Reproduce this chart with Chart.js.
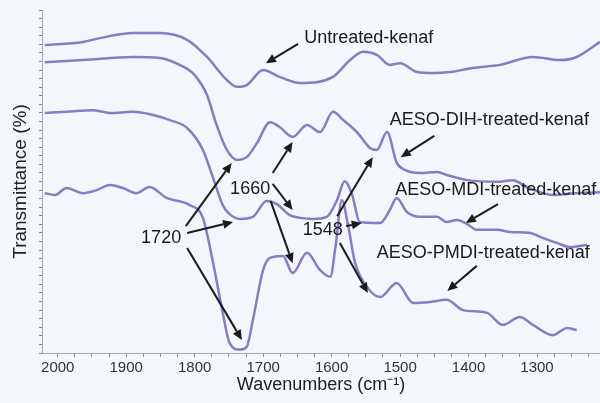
<!DOCTYPE html>
<html>
<head>
<meta charset="utf-8">
<script src="https://cdn.jsdelivr.net/npm/chart.js@4/dist/chart.umd.min.js"></script>
<style>
html, body { margin: 0; padding: 0; background: #f3f6fa; }
canvas { display: block; }
</style>
</head>
<body>
<canvas id="ftir" width="600" height="403"></canvas>
<script>
// spectra: wavenumber (cm-1) and transmittance (arbitrary %, offset per sample)
const untreatedWn = [2019, 1963, 1939, 1890, 1851, 1811, 1782, 1753, 1738, 1724, 1700, 1676, 1646, 1598, 1573, 1554, 1534, 1515, 1500, 1475, 1452, 1427, 1394, 1354, 1306, 1266, 1242, 1208];
const untreatedT = [89.8, 90.7, 91.8, 93.3, 93.3, 91.3, 86.3, 79.6, 77.6, 78.1, 82.5, 80.5, 78.7, 80.5, 85.4, 87.8, 86.9, 84.0, 84.5, 81.9, 81.6, 81.9, 83.1, 84.0, 86.3, 85.4, 86.3, 90.7];

const dihWn = [2019, 1963, 1890, 1851, 1822, 1800, 1782, 1768, 1753, 1738, 1724, 1709, 1690, 1676, 1657, 1636, 1617, 1598, 1583, 1563, 1544, 1534, 1519, 1505, 1493, 1471, 1446, 1432, 1402, 1358, 1335, 1315, 1277, 1244, 1208];
const dihT = [84.8, 85.4, 86.3, 86.0, 84.0, 81.0, 75.2, 66.5, 59.2, 56.3, 57.1, 61.2, 67.3, 65.9, 63.0, 66.5, 64.4, 70.3, 67.9, 64.4, 59.8, 59.2, 64.4, 55.5, 53.4, 52.5, 52.8, 51.9, 50.4, 49.9, 50.4, 48.4, 46.1, 46.6, 46.9];

const mdiWn = [2019, 1987, 1949, 1924, 1890, 1861, 1836, 1811, 1788, 1773, 1759, 1749, 1734, 1715, 1695, 1680, 1661, 1646, 1627, 1607, 1592, 1581, 1570, 1559, 1529, 1515, 1505, 1490, 1471, 1446, 1432, 1417, 1402, 1388, 1358, 1339, 1310, 1291, 1271, 1252, 1227];
const mdiT = [70.0, 70.3, 70.8, 70.0, 70.3, 69.4, 67.9, 65.6, 59.2, 51.0, 43.1, 40.5, 39.1, 39.7, 44.3, 43.4, 40.2, 39.4, 39.1, 39.7, 44.6, 50.1, 46.1, 38.2, 37.9, 41.7, 45.2, 41.1, 39.7, 39.7, 38.2, 38.8, 37.6, 35.9, 35.9, 35.3, 35.0, 33.5, 32.1, 30.9, 31.5];

const pmdiWn = [2019, 2004, 1987, 1963, 1943, 1924, 1905, 1885, 1866, 1841, 1807, 1788, 1773, 1759, 1749, 1734, 1724, 1715, 1700, 1690, 1671, 1657, 1636, 1617, 1602, 1594, 1585, 1576, 1566, 1548, 1529, 1505, 1481, 1456, 1432, 1408, 1373, 1350, 1325, 1306, 1277, 1256, 1242];
const pmdiT = [46.6, 46.1, 48.1, 46.6, 47.5, 49.0, 48.1, 46.6, 48.4, 45.2, 43.1, 39.4, 26.2, 11.7, 2.9, 1.0, 1.8, 9.6, 24.2, 27.7, 28.3, 23.3, 29.2, 24.2, 22.2, 31.5, 44.5, 37.3, 26.5, 19.2, 16.3, 20.4, 14.6, 14.9, 15.5, 12.5, 11.7, 8.2, 10.5, 8.2, 5.2, 7.3, 6.7];

const xTickStep = 25;   // minor ticks, labelled every 100
const yTickStep = 2.5;

// text notes and arrows, placed in data units (wavenumber, transmittance)
const notes = [
    { text: 'Untreated-kenaf', wn: 1640, t: 91.8 },
    { text: 'AESO-DIH-treated-kenaf', wn: 1515, t: 67.9 },
    { text: 'AESO-MDI-treated-kenaf', wn: 1507, t: 47.5 },
    { text: 'AESO-PMDI-treated-kenaf', wn: 1534, t: 29.2 },
    { text: '1720', wn: 1849, t: 33.5, center: true },
    { text: '1660', wn: 1719, t: 47.8, center: true },
    { text: '1548', wn: 1613, t: 35.9, center: true }
];
const arrows = [
    [1649, 90.1, 1696, 84.5],
    [1450, 63.3, 1499, 57.1],
    [1357, 43.4, 1404, 37.9],
    [1388, 25.4, 1431, 18.1],
    [1813, 37.0, 1746, 55.4],
    [1811, 35.0, 1744, 38.2],
    [1811, 30.6, 1731, 3.8],
    [1686, 52.5, 1657, 61.5],
    [1686, 49.3, 1657, 41.7],
    [1689, 44.3, 1657, 26.2],
    [1592, 39.9, 1540, 57.1],
    [1579, 37.0, 1556, 37.9],
    [1588, 32.1, 1547, 17.5]
];

function toPoints(wn, t) {
    return wn.map((w, i) => ({ x: w, y: t[i] }));
}

function makeSet(label, wn, t) {
    return {
        label: label,
        data: toPoints(wn, t),
        borderColor: '#8a7bc2',
        borderWidth: 2.5,
        pointRadius: 0,
        fill: false,
        cubicInterpolationMode: 'monotone'
    };
}

const bgPlugin = {
    id: 'bg',
    beforeDraw(chart) {
        const ctx = chart.ctx;
        ctx.save();
        ctx.fillStyle = '#f3f6fa';
        ctx.fillRect(0, 0, chart.width, chart.height);
        ctx.restore();
    }
};

function drawArrow(ctx, x1, y1, x2, y2) {
    const ang = Math.atan2(y2 - y1, x2 - x1);
    const head = 10;
    const bx = x2 - head * Math.cos(ang);
    const by = y2 - head * Math.sin(ang);
    ctx.beginPath();
    ctx.moveTo(x1, y1);
    ctx.lineTo(bx, by);
    ctx.stroke();
    ctx.beginPath();
    ctx.moveTo(x2, y2);
    ctx.lineTo(bx + 4.5 * Math.sin(ang), by - 4.5 * Math.cos(ang));
    ctx.lineTo(bx - 4.5 * Math.sin(ang), by + 4.5 * Math.cos(ang));
    ctx.closePath();
    ctx.fill();
}

const notesPlugin = {
    id: 'notes',
    afterDatasetsDraw(chart) {
        const ctx = chart.ctx;
        const xs = chart.scales.x;
        const ys = chart.scales.y;
        ctx.save();
        ctx.fillStyle = '#1b1b1b';
        ctx.strokeStyle = '#1b1b1b';
        ctx.lineWidth = 2;
        ctx.font = '18px "Liberation Sans", Arial, sans-serif';
        ctx.textBaseline = 'middle';
        notes.forEach(n => {
            ctx.textAlign = n.center ? 'center' : 'left';
            ctx.fillText(n.text, xs.getPixelForValue(n.wn), ys.getPixelForValue(n.t));
        });
        arrows.forEach(a => {
            drawArrow(ctx, xs.getPixelForValue(a[0]), ys.getPixelForValue(a[1]),
                xs.getPixelForValue(a[2]), ys.getPixelForValue(a[3]));
        });
        ctx.restore();
    }
};

function stepTicks(scale, step) {
    const out = [];
    for (let v = Math.ceil(scale.min / step) * step; v <= scale.max; v += step) {
        out.push({ value: v });
    }
    scale.ticks = out;
}

Chart.defaults.font.family = '"Liberation Sans", Arial, sans-serif';

new Chart(document.getElementById('ftir'), {
    type: 'line',
    data: {
        datasets: [
            makeSet('Untreated-kenaf', untreatedWn, untreatedT),
            makeSet('AESO-DIH-treated-kenaf', dihWn, dihT),
            makeSet('AESO-MDI-treated-kenaf', mdiWn, mdiT),
            makeSet('AESO-PMDI-treated-kenaf', pmdiWn, pmdiT)
        ]
    },
    options: {
        responsive: false,
        devicePixelRatio: 1,
        animation: false,
        layout: { padding: { top: 10, right: 0, left: 0, bottom: 0 } },
        plugins: {
            legend: { display: false },
            tooltip: { enabled: false }
        },
        scales: {
            x: {
                type: 'linear',
                reverse: true,
                min: 1208,
                max: 2023,
                afterBuildTicks: s => stepTicks(s, xTickStep),
                afterFit: s => { s.height = 50; },
                grid: { drawOnChartArea: false, tickLength: 4, color: '#8a8a8a' },
                border: { color: '#a8a8a8', dash: [2, 2] },
                ticks: {
                    autoSkip: false,
                    maxRotation: 0,
                    padding: 2,
                    color: '#333',
                    font: { size: 15 },
                    callback: v => (v % 100 === 0 ? String(v) : '')
                },
                title: {
                    display: true,
                    text: 'Wavenumbers (cm\u207B\u00B9)',
                    color: '#222',
                    font: { size: 18 },
                    padding: { top: 0, bottom: 7 }
                }
            },
            y: {
                min: 0,
                max: 100,
                afterBuildTicks: s => stepTicks(s, yTickStep),
                afterFit: s => { s.width = 42; },
                grid: { drawOnChartArea: false, tickLength: 3, color: '#8a8a8a' },
                border: { color: '#a8a8a8', dash: [2, 2] },
                ticks: { display: false },
                title: {
                    display: true,
                    text: 'Transmittance (%)',
                    color: '#222',
                    font: { size: 19 },
                    padding: { top: 9, bottom: 0 }
                }
            }
        }
    },
    plugins: [bgPlugin, notesPlugin]
});
</script>
</body>
</html>
